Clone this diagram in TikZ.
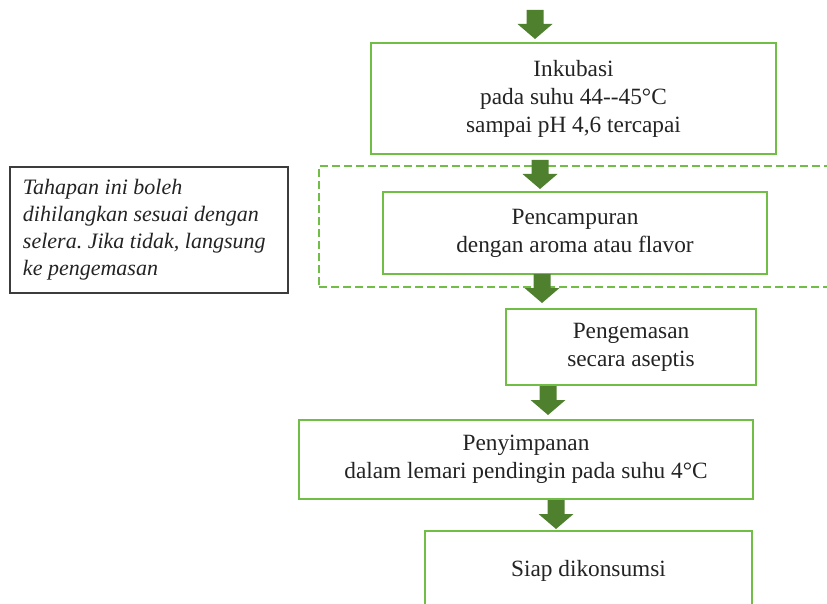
\documentclass[tikz,border=0pt]{standalone}
\usepackage{fontspec}
\setmainfont{Liberation Serif}
\usepackage{xcolor}
\definecolor{BoxGreen}{RGB}{112,190,70}
\definecolor{ArrowGreen}{RGB}{78,128,46}
\definecolor{NoteRule}{RGB}{60,60,60}
\definecolor{InkCol}{RGB}{35,35,35}
\frenchspacing
\tikzset{
  fcbox/.style={rectangle, draw=BoxGreen, line width=2.4pt, align=center, text=InkCol,
    font=\fontsize{23.3}{28}\selectfont, inner sep=0pt},
  fcdash/.style={rectangle, draw=BoxGreen, line width=2pt, dash pattern=on 8pt off 4pt, inner sep=0pt},
  fcnote/.style={rectangle, draw=NoteRule, line width=1.1pt, text width=252pt, align=flush left, text=InkCol,
    font=\fontsize{22}{27}\selectfont\itshape, minimum width=278pt, minimum height=126pt, inner sep=0pt},
  fcarrow/.style={fill=ArrowGreen}
}
\newcommand{\FCArrow}[1]{%
  \fill[fcarrow] (#1) ++(-8.5,0) -- ++(0,14) -- ++(-9,0) -- ++(17.5,15) --
    ++(17.5,-15) -- ++(-9,0) -- ++(0,-14) -- cycle;}

\begin{document}
\begin{tikzpicture}[x=1pt,y=-1pt]
  \useasboundingbox (0,0) rectangle (827,604);
  \clip (0,0) rectangle (827,604);
  % optional step frame and note
  \node[fcdash, minimum width=526pt, minimum height=121pt] (optframe) at (582,226.5) {};
  \node[fcnote] (note) at (149,230) {Tahapan ini boleh\\dihilangkan sesuai dengan\\selera. Jika tidak, langsung\\ke pengemasan};
  % process steps
  \node[fcbox, minimum width=405pt, minimum height=111pt] (incub) at (573.5,98.5)
    {Inkubasi\\pada suhu 44-{}-45°C\\sampai pH 4,6 tercapai\vphantom{\rule{0pt}{6pt}}};
  \node[fcbox, minimum width=384pt, minimum height=82pt] (mix) at (575,233)
    {Pencampuran\\dengan aroma atau flavor};
  \node[fcbox, minimum width=250pt, minimum height=76pt] (pack) at (631,347)
    {Pengemasan\\secara aseptis};
  \node[fcbox, minimum width=454pt, minimum height=79pt] (store) at (526,459.5)
    {Penyimpanan\\dalam lemari pendingin pada suhu 4°C};
  \node[fcbox, minimum width=327pt, minimum height=80pt] (ready) at (588.5,571)
    {Siap dikonsumsi};
  % block arrows
  \coordinate (ar1) at (535,10);
  \coordinate (ar2) at (540,160);
  \coordinate (ar3) at (542,274);
  \coordinate (ar4) at (548,386);
  \coordinate (ar5) at (556,500);
  \foreach \a in {ar1,ar2,ar3,ar4,ar5}{\FCArrow{\a}}
\end{tikzpicture}
\end{document}
